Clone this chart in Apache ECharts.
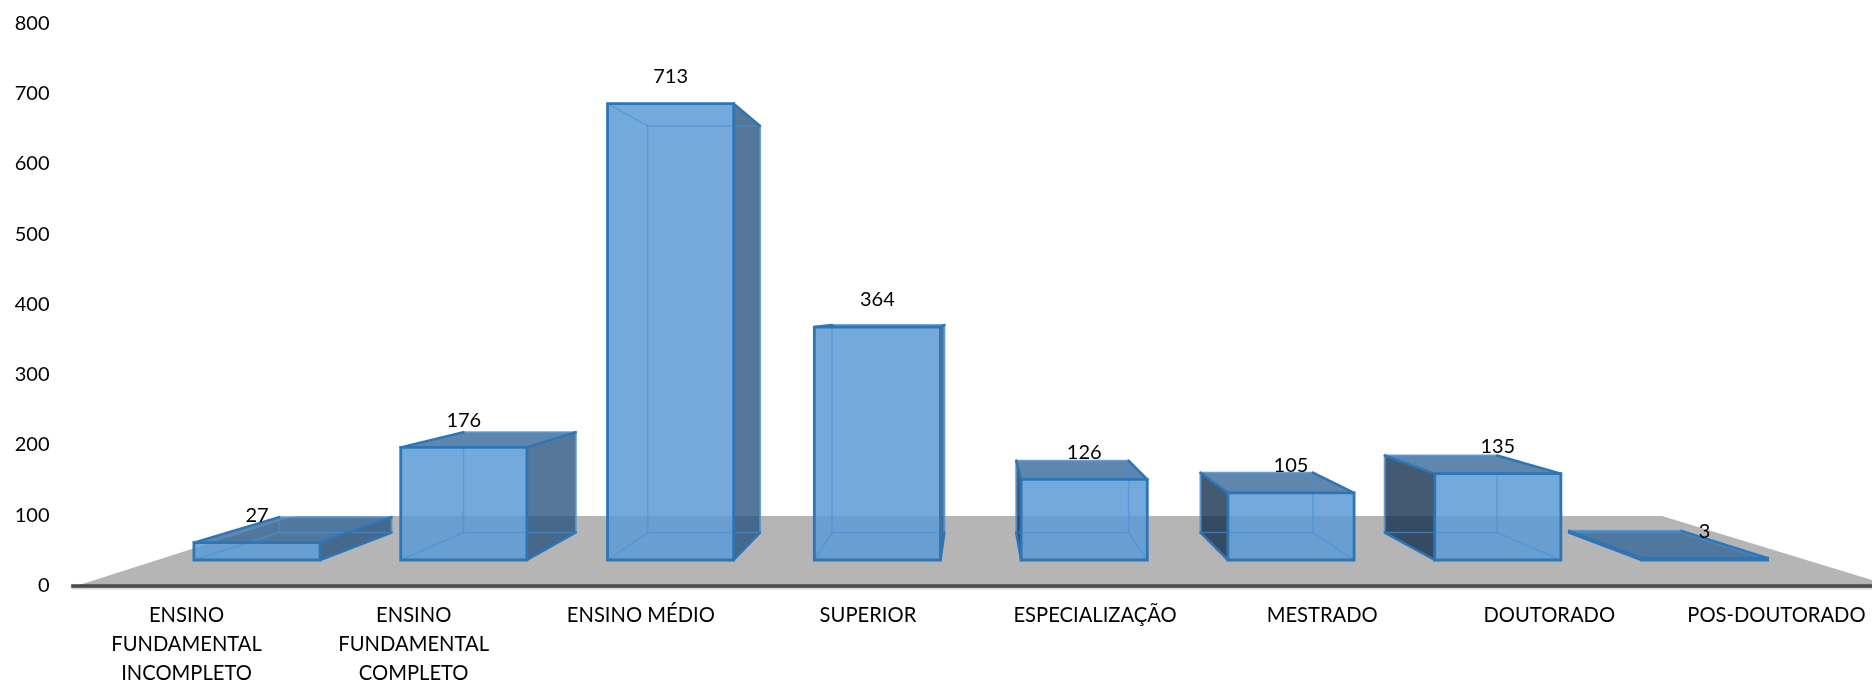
<!DOCTYPE html>
<html>
<head>
<meta charset="utf-8">
<style>html,body{margin:0;padding:0;background:#fff}#c{width:1872px;height:683px}</style>
<script src="https://cdn.jsdelivr.net/npm/echarts@6/dist/echarts.min.js"></script>
</head>
<body>
<div id="c"></div>
<script>
const categories = ['ENSINO\nFUNDAMENTAL\nINCOMPLETO','ENSINO\nFUNDAMENTAL\nCOMPLETO','ENSINO MÉDIO','SUPERIOR','ESPECIALIZAÇÃO','MESTRADO','DOUTORADO','POS-DOUTORADO'];
const values = [27,176,713,364,126,105,135,3];
const tickMax = 800;
const tickStep = 100;

const FONT = 'Lato';
const VP = [976, 308];      // vanishing point of the 3D view
const BACK = 0.891;         // back-face scale relative to the front face
const C = {
  front: 'rgba(91,155,213,0.85)',
  sideR: 'rgba(42,85,129,0.8)',
  sideL: 'rgba(21,49,79,0.8)',
  top: 'rgba(55,105,152,0.8)',
  edge: '#2e75b6',
  outer: 'rgba(84,146,208,0.85)',
  inner: 'rgba(74,144,214,0.6)'
};
const toBack = p => [VP[0] + (p[0] - VP[0]) * BACK, VP[1] + (p[1] - VP[1]) * BACK];

function renderBox(params, api) {
  const idx = api.value(0), val = api.value(1);
  const base = api.coord([idx, 0]);
  const head = api.coord([idx, val]);
  const w = api.size([1, 0])[0] * 0.61;
  const l = base[0] - w / 2, r = base[0] + w / 2;
  const fBL = [l, base[1]], fBR = [r, base[1]], fTL = [l, head[1]], fTR = [r, head[1]];
  const bBL = toBack(fBL), bBR = toBack(fBR), bTL = toBack(fTL), bTR = toBack(fTR);
  const kids = [];
  const poly = (pts, fill) => kids.push({ type: 'polygon', shape: { points: pts }, style: { fill: fill } });
  const seg = (a, b, color, lw) => kids.push({
    type: 'line', shape: { x1: a[0], y1: a[1], x2: b[0], y2: b[1] },
    style: { stroke: color, lineWidth: lw, lineCap: 'round' }
  });
  const rightVisible = r < VP[0], leftVisible = l > VP[0], topVisible = head[1] > VP[1];
  if (rightVisible) poly([fBR, fTR, bTR, bBR], C.sideR);
  if (leftVisible) poly([fBL, fTL, bTL, bBL], C.sideL);
  if (topVisible) poly([fTL, fTR, bTR, bTL], C.top);
  poly([fBL, fBR, fTR, fTL], C.front);
  // hidden edges seen through the translucent box
  seg(bBL, bBR, C.inner, 1.5);
  seg(bTL, bBL, leftVisible ? C.outer : C.inner, leftVisible ? 2 : 1.5);
  seg(bBR, bTR, rightVisible ? C.outer : C.inner, rightVisible ? 2 : 1.5);
  seg(bTL, bTR, topVisible ? C.outer : C.inner, topVisible ? 2 : 1.5);
  seg(fBL, bBL, leftVisible ? C.edge : C.inner, leftVisible ? 2.5 : 1.5);
  seg(fBR, bBR, rightVisible ? C.edge : C.inner, rightVisible ? 2.5 : 1.5);
  seg(fTL, bTL, topVisible || leftVisible ? C.edge : C.inner, topVisible || leftVisible ? 2.5 : 1.5);
  seg(fTR, bTR, topVisible || rightVisible ? C.edge : C.inner, topVisible || rightVisible ? 2.5 : 1.5);
  kids.push({
    type: 'polygon', shape: { points: [fBL, fBR, fTR, fTL] },
    style: { fill: 'rgba(0,0,0,0)', stroke: C.edge, lineWidth: 2.8, lineJoin: 'miter' }
  });
  kids.push({
    type: 'text', z2: 100,
    style: { text: String(val), x: base[0], y: head[1] - 27, align: 'center', verticalAlign: 'middle',
             font: '20px ' + FONT, fill: '#000' }
  });
  return { type: 'group', children: kids };
}

const chart = echarts.init(document.getElementById('c'), null, { renderer: 'canvas', width: 1872, height: 683 });
chart.setOption({
  animation: false,
  backgroundColor: '#fff',
  graphic: [{
    type: 'polygon', z: 0, silent: true,
    shape: { points: [[76, 586], [295, 516], [1662, 516], [1892, 586]] },
    style: { fill: '#b5b5b5' }
  }],
  grid: [
    { left: 73, width: 1817, top: 23.5, height: 562, containLabel: false, outerBoundsMode: 'none' },
    { left: 153.6, width: 1654.4, top: 48, height: 512, containLabel: false, outerBoundsMode: 'none' }
  ],
  xAxis: [
    { gridIndex: 0, type: 'category', data: categories, boundaryGap: true, z: 5,
      axisTick: { show: false },
      axisLine: { show: true, lineStyle: { color: '#4a4a4a', width: 3.5, cap: 'square', shadowColor: 'rgba(0,0,0,0.3)', shadowBlur: 2, shadowOffsetY: 1 } },
      axisLabel: { interval: 0, margin: 15, fontFamily: FONT, fontSize: 20.2, color: '#000', lineHeight: 29.3, align: 'center', hideOverlap: false } },
    { gridIndex: 1, type: 'category', data: categories, show: false }
  ],
  yAxis: [
    { gridIndex: 0, type: 'value', min: 0, max: tickMax, interval: tickStep,
      axisLine: { show: false }, axisTick: { show: false }, splitLine: { show: false },
      axisLabel: { margin: 23.5, fontFamily: FONT, fontSize: 20, color: '#000' } },
    { gridIndex: 1, type: 'value', min: 0, max: tickMax, show: false, splitLine: { show: false } }
  ],
  series: [{
    type: 'custom',
    xAxisIndex: 1, yAxisIndex: 1,
    clip: false,
    renderItem: renderBox,
    encode: { x: 0, y: 1 },
    data: values.map((v, i) => [i, v])
  }]
});
</script>
</body>
</html>
